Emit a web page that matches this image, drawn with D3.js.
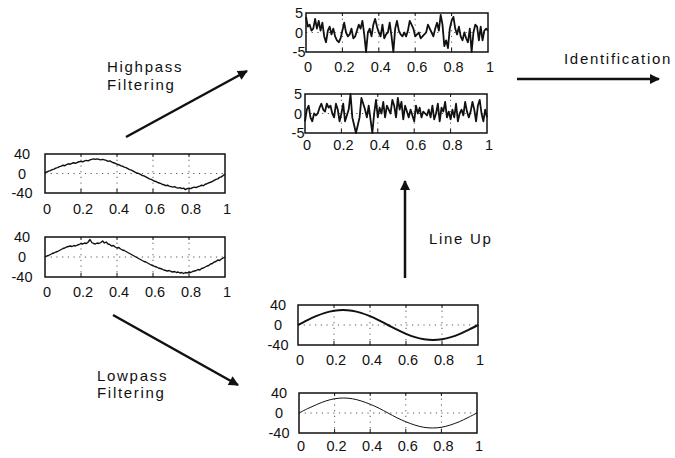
<!DOCTYPE html>
<html>
<head>
<meta charset="utf-8">
<script src="https://cdn.jsdelivr.net/npm/d3@7"></script>
<style>
  body { margin: 0; background: #fff; }
  svg { display: block; font-family: "Liberation Sans", Arial, sans-serif; }
  .tick-label { font-size: 14.5px; fill: #111; }
  .caption { font-size: 15px; fill: #111; letter-spacing: 1.7px; }
</style>
</head>
<body>
<svg width="675" height="458"></svg>
<script>
// x ticks shared by every panel
const xTicks = [0, 0.2, 0.4, 0.6, 0.8, 1];
const xTickLabels = ["0", "0.2", "0.4", "0.6", "0.8", "1"];
const hpTicks = [-5, 0, 5];
const sigTicks = [-40, 0, 40];

// highpass filtered signals, sampled every 0.01
const highpass1 = [
  4, 1.5, 2, 0.5, 1, 3.5, 1, 3, 0.5, 2.5,
  -1, -2.5, 0.5, 1.5, -0.5, 1, -1, -2, -2.5, -1.5,
  0.5, 2.5, 0, -1, -0.5, 1, -1.5, -1, 0.5, 2,
  1, 3, -0.5, -5, 0, 1, -1, 2, 3.5, 1.5,
  0, -1, 2, -1.5, -0.5, 0, 2.5, -1, -5, 1,
  3, 0.5, -0.5, -1, 0, -1, 0.5, 3, 2, 1,
  -1, -0.5, 0, -1.5, -1, -0.5, 0, 2, 1, 0,
  -1, 1, 2.5, 0.5, 4.5, 2, -3.5, -2, -4, 1,
  3, 4, 1, -0.5, 1.5, -1, -2, 0, -1.5, -2.5,
  1, -5, 0, 2, 1.5, -2, 1.5, -2, 0.5, 1, 0.5
];
const highpass2 = [
  -2, 1, 2, -1, -2, 0, -0.5, 0, 1.5, 2.5,
  1, 0.5, 2.5, 1.5, 2, 0, -1, 2.5, 1, -2,
  0, 2.5, -2, -0.5, 1, 5, -1, -3, -5, -3,
  -1, 4, 2.5, 1, -1, 2, -1.5, -5, 0, 3.5,
  -1, 1.5, 0, 3, -1, 2, 1, 0, 3.5, 2,
  -1, 4, 1, 3, -1.5, 2, 0.5, -1, 1, -0.5,
  -2, 2, 0, 1.5, -1, 0.5, 0, -0.5, 1, -1,
  2, -1.5, 0, 2.5, -2, 1.5, 0.5, 3, -1, 0.5,
  -1.5, 1, -1, 2.5, -2, 0, 1, -0.5, 3, 0.5,
  -1, 0.5, 3, 1, -2, 2, 3.5, 0, -2, 1, -1
];

// raw measured signals, sampled every 0.01
const raw1 = [
  2, 3, 5, 6, 8, 9, 11, 12, 14, 15,
  17, 16, 18, 20, 19, 21, 22, 21, 23, 24,
  25, 24, 26, 27, 26, 28, 29, 30, 29, 30,
  29, 28, 29, 28, 27, 25, 26, 24, 22, 21,
  19, 18, 16, 15, 13, 12, 10, 8, 7, 5,
  3, 1, 0, -2, -4, -5, -7, -9, -11, -12,
  -14, -16, -17, -19, -20, -22, -23, -25, -24, -26,
  -27, -28, -27, -29, -30, -29, -31, -30, -33, -31,
  -30, -31, -29, -28, -29, -27, -26, -24, -25, -22,
  -21, -19, -18, -16, -14, -12, -11, -8, -7, -4, -2
];
const raw2 = [
  0, 2, 3, 5, 7, 8, 10, 11, 13, 15,
  17, 18, 20, 21, 22, 21, 23, 22, 24, 25,
  27, 26, 28, 27, 30, 35, 29, 27, 26, 28,
  27, 29, 32, 28, 30, 26, 25, 22, 23, 20,
  18, 19, 16, 14, 13, 11, 9, 7, 5, 3,
  1, -1, -3, -5, -7, -9, -10, -12, -14, -16,
  -17, -19, -20, -22, -23, -24, -26, -27, -28, -27,
  -29, -30, -29, -31, -30, -32, -31, -33, -31, -32,
  -30, -31, -29, -28, -27, -25, -26, -23, -22, -20,
  -18, -17, -14, -13, -10, -9, -6, -7, -4, -2, 0
];

// lowpass filtered signals, sampled every 0.05
const lowpass1 = [
  0, 9.3, 17.6, 24.3, 28.5, 30, 28.5, 24.3, 17.6, 9.3,
  0, -9.3, -17.6, -24.3, -28.5, -30, -28.5, -24.3, -17.6, -9.3, 0
];
const lowpass2 = [
  0, 9, 17, 24, 28.5, 30, 28.5, 24, 17.5, 9.5,
  0, -9.5, -17.5, -24, -28.5, -30, -28.5, -24, -17.5, -9, 0
];

let svg = d3.select("svg");

svg.append("defs").append("marker")
  .attr("id", "head")
  .attr("viewBox", "0 0 10 10")
  .attr("refX", 9)
  .attr("refY", 5)
  .attr("markerUnits", "userSpaceOnUse")
  .attr("markerWidth", 14)
  .attr("markerHeight", 10)
  .attr("orient", "auto")
  .append("path")
  .attr("d", "M0,0 L10,5 L0,10 Z")
  .attr("fill", "#111");

// one little matlab style plot
function panel(box, values, step, yTicks, opts) {
  let x = d3.scaleLinear().domain([0, 1]).range([box.left, box.right]);
  let y = d3.scaleLinear().domain([yTicks[0], yTicks[2]]).range([box.bottom, box.top]);
  let g = svg.append("g");

  // dotted grid
  g.selectAll(".vgrid")
    .data(xTicks.slice(1, -1))
    .enter()
    .append("line")
    .attr("x1", d => x(d)).attr("x2", d => x(d))
    .attr("y1", box.top).attr("y2", box.bottom)
    .attr("stroke", "#555").attr("stroke-width", 1)
    .attr("stroke-dasharray", "1.2,4.5");
  g.append("line")
    .attr("x1", box.left).attr("x2", box.right)
    .attr("y1", y(0)).attr("y2", y(0))
    .attr("stroke", "#555").attr("stroke-width", 1)
    .attr("stroke-dasharray", "1.2,4.5");

  // small ticks inside the frame
  g.selectAll(".xt")
    .data(xTicks.slice(1, -1))
    .enter()
    .append("line")
    .attr("x1", d => x(d)).attr("x2", d => x(d))
    .attr("y1", box.bottom).attr("y2", box.bottom - 4)
    .attr("stroke", "#111");
  g.selectAll(".xt2")
    .data(xTicks.slice(1, -1))
    .enter()
    .append("line")
    .attr("x1", d => x(d)).attr("x2", d => x(d))
    .attr("y1", box.top).attr("y2", box.top + 3)
    .attr("stroke", "#111");

  let line = d3.line()
    .x((d, i) => x(i * step))
    .y(d => y(d));
  if (opts.smooth) line.curve(d3.curveCardinal);
  g.append("path")
    .datum(values)
    .attr("fill", "none")
    .attr("stroke", "#111")
    .attr("stroke-width", opts.width)
    .attr("stroke-linejoin", "round")
    .attr("d", line);

  g.append("rect")
    .attr("x", box.left).attr("y", box.top)
    .attr("width", box.right - box.left)
    .attr("height", box.bottom - box.top)
    .attr("fill", "none")
    .attr("stroke", "#111")
    .attr("stroke-width", 1.5);

  g.selectAll(".xl")
    .data(xTicks)
    .enter()
    .append("text")
    .attr("class", "tick-label")
    .attr("x", d => x(d) + 2)
    .attr("y", box.bottom + box.xl)
    .attr("dy", "0.36em")
    .attr("text-anchor", "middle")
    .text((d, i) => xTickLabels[i]);

  g.selectAll(".yl")
    .data(yTicks)
    .enter()
    .append("text")
    .attr("class", "tick-label")
    .attr("x", box.left - box.yl)
    .attr("y", d => y(d))
    .attr("dy", "0.36em")
    .attr("text-anchor", "middle")
    .text(d => d);
}

panel({ left: 306, right: 488, top: 13, bottom: 52, xl: 15, yl: 7 }, highpass1, 0.01, hpTicks, { width: 1.8 });
panel({ left: 305, right: 487, top: 94, bottom: 133, xl: 12, yl: 7 }, highpass2, 0.01, hpTicks, { width: 1.8 });
panel({ left: 45, right: 225, top: 154, bottom: 193, xl: 16, yl: 23 }, raw1, 0.01, sigTicks, { width: 1.4 });
panel({ left: 45, right: 225, top: 237, bottom: 277, xl: 15, yl: 23 }, raw2, 0.01, sigTicks, { width: 1.4 });
panel({ left: 298, right: 478, top: 305, bottom: 345, xl: 15, yl: 20 }, lowpass1, 0.05, sigTicks, { width: 2, smooth: true });
panel({ left: 299, right: 477, top: 393, bottom: 433, xl: 13, yl: 20 }, lowpass2, 0.05, sigTicks, { width: 1, smooth: true });

// arrows between the panels
function arrow(x1, y1, x2, y2) {
  svg.append("line")
    .attr("x1", x1).attr("y1", y1)
    .attr("x2", x2).attr("y2", y2)
    .attr("stroke", "#111")
    .attr("stroke-width", 2.5)
    .attr("marker-end", "url(#head)");
}
arrow(126, 137, 247, 71);
arrow(517, 79, 659, 79);
arrow(113, 315, 238, 385);
arrow(405, 278, 405, 181);

function caption(x, y, txt) {
  svg.append("text")
    .attr("class", "caption")
    .attr("x", x).attr("y", y)
    .text(txt);
}
caption(107, 72, "Highpass");
caption(107, 90, "Filtering");
caption(564, 64, "Identification");
caption(97, 381, "Lowpass");
caption(97, 398, "Filtering");
caption(429, 244, "Line Up");
</script>
</body>
</html>
